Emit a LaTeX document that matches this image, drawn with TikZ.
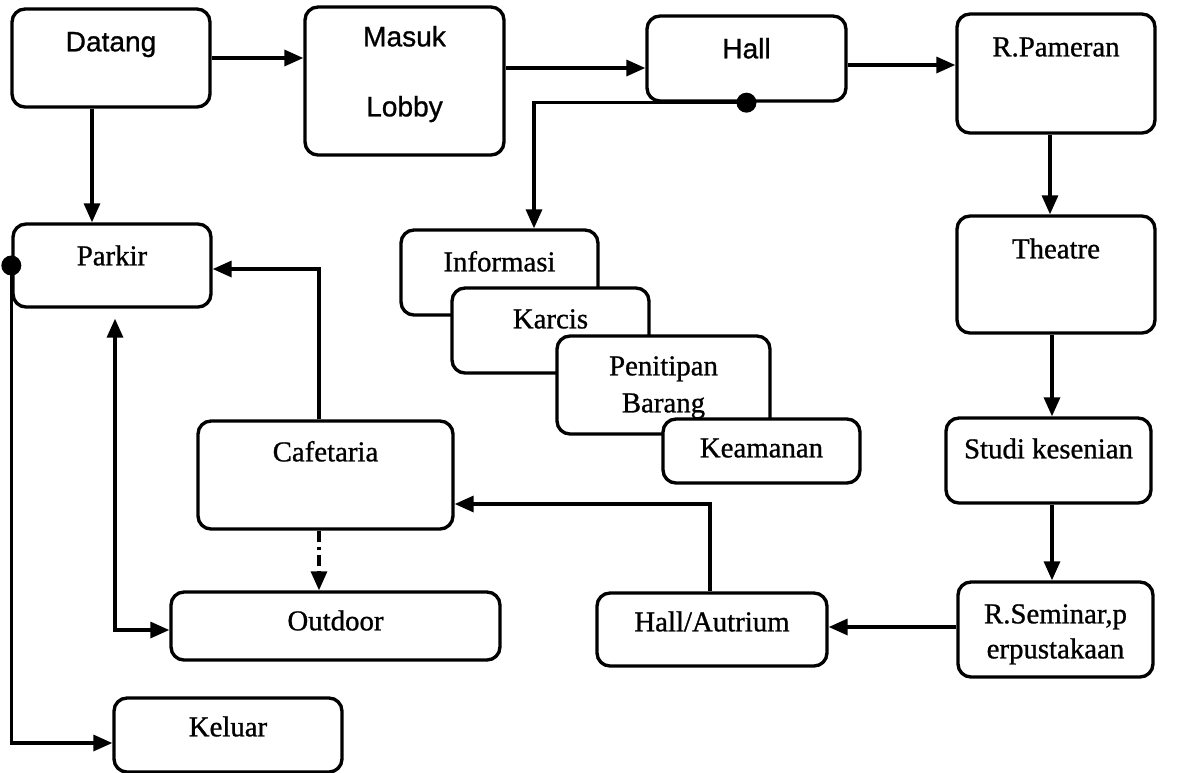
\documentclass[tikz,border=0pt]{standalone}
\usepackage{fontspec}
\setmainfont{Liberation Serif}[FakeBold=0.9]
\newfontfamily\arialf{Liberation Sans}[FakeBold=0.9]
\usetikzlibrary{arrows.meta,calc}

\begin{document}
\begin{tikzpicture}[
  every node/.style={font=\fontsize{8.2}{9.8}\selectfont},
  ruang/.style={draw,fill=white,rounded corners=1.3mm,line width=0.95pt,inner sep=0pt},
  tx/.style={anchor=base,inner sep=0pt},
  sans/.style={font=\arialf\fontsize{8}{9.6}\selectfont},
  fl/.style={-{Triangle[length=1.9mm,width=1.6mm]},line width=0.95pt}
]
\useasboundingbox (0,0) rectangle (11.88,-7.73);

% baris atas
\node[ruang,minimum width=1.98cm,minimum height=0.98cm] (datang) at (1.11,-0.58) {};
\node[tx,sans] (tdatang) at ([yshift=-4.4mm]datang.north) {Datang};
\node[ruang,minimum width=1.99cm,minimum height=1.48cm] (masuk) at (4.045,-0.81) {};
\node[tx,sans] (tmasuk) at ([yshift=-4.1mm]masuk.north) {Masuk};
\node[tx,sans] (tlobby) at ([yshift=-11.1mm]masuk.north) {Lobby};
\node[ruang,minimum width=1.99cm,minimum height=0.85cm] (hall) at (7.465,-0.585) {};
\node[tx,sans] (thall) at ([yshift=-4.4mm]hall.north) {Hall};
\node[ruang,minimum width=1.98cm,minimum height=1.19cm] (pameran) at (10.56,-0.735) {};
\node[tx] (tpameran) at ([yshift=-4.4mm]pameran.north) {R.Pameran};

% kolom kanan
\node[ruang,minimum width=1.98cm,minimum height=1.17cm] (theatre) at (10.56,-2.745) {};
\node[tx] (ttheatre) at ([yshift=-4.4mm]theatre.north) {Theatre};
\node[ruang,minimum width=2.05cm,minimum height=0.85cm] (studi) at (10.485,-4.605) {};
\node[tx] (tstudi) at ([yshift=-4.2mm]studi.north) {Studi kesenian};
\node[ruang,minimum width=1.95cm,minimum height=0.95cm] (seminar) at (10.555,-6.295) {};
\node[tx] (tseminar) at ([yshift=-4.3mm]seminar.north) {R.Seminar,p};
\node[tx] (tseminar2) at ([yshift=-7.8mm]seminar.north) {erpustakaan};

% tumpukan layanan
\node[ruang,minimum width=1.97cm,minimum height=0.85cm] (info) at (4.995,-2.725) {};
\node[tx] (tinfo) at ([yshift=-4.3mm]info.north) {Informasi};
\node[ruang,minimum width=1.97cm,minimum height=0.85cm] (karcis) at (5.505,-3.305) {};
\node[tx] (tkarcis) at ([yshift=-4.2mm]karcis.north) {Karcis};
\node[ruang,minimum width=2.13cm,minimum height=0.98cm] (titip) at (6.635,-3.85) {};
\node[tx] (ttitip) at ([yshift=-4.1mm]titip.north) {Penitipan};
\node[tx] (ttitip2) at ([yshift=-7.8mm]titip.north) {Barang};
\node[ruang,minimum width=1.97cm,minimum height=0.64cm] (aman) at (7.615,-4.51) {};
\node[tx] (taman) at ([yshift=-4.0mm]aman.north) {Keamanan};

% kiri bawah
\node[ruang,minimum width=1.98cm,minimum height=0.83cm] (parkir) at (1.12,-2.655) {};
\node[tx] (tparkir) at ([yshift=-4.3mm]parkir.north) {Parkir};
\node[ruang,minimum width=2.55cm,minimum height=1.08cm] (cafe) at (3.255,-4.75) {};
\node[tx] (tcafe) at ([yshift=-4.2mm]cafe.north) {Cafetaria};
\node[ruang,minimum width=3.29cm,minimum height=0.68cm] (outdoor) at (3.355,-6.26) {};
\node[tx] (toutdoor) at ([yshift=-4.0mm]outdoor.north) {Outdoor};
\node[ruang,minimum width=2.30cm,minimum height=0.73cm] (atrium) at (7.12,-6.295) {};
\node[tx] (tatrium) at ([yshift=-4.0mm]atrium.north) {Hall/Autrium};
\node[ruang,minimum width=2.28cm,minimum height=0.74cm] (keluar) at (2.28,-7.35) {};
\node[tx] (tkeluar) at ([yshift=-4.0mm]keluar.north) {Keluar};

% alur
\draw[fl] (datang.east) -- (datang.east -| masuk.west);
\draw[fl] (masuk.east |- 0,-0.68) -- (hall.west |- 0,-0.68);
\draw[fl] (hall.east |- 0,-0.65) -- (pameran.west |- 0,-0.65);
\draw[fl] ([xshift=-0.6mm]pameran.south) -- ([xshift=-0.6mm]theatre.north);
\draw[fl] ([xshift=-0.4mm]theatre.south) -- ([xshift=-0.4mm]theatre.south |- studi.north);
\draw[fl] ([xshift=-0.4mm]theatre.south |- studi.south) -- ([xshift=-0.4mm]theatre.south |- seminar.north);
\draw[fl] (seminar.west |- 0,-6.27) -- (atrium.east |- 0,-6.27);
\draw[fl] ([xshift=-0.2mm]atrium.north) |- ([yshift=-2.9mm]cafe.east);
\draw[fl] ([xshift=-0.65mm]cafe.north) |- ([yshift=-0.35mm]parkir.east);
\draw[fl,dash pattern=on 1.1mm off 0.5mm on 0.3mm off 0.5mm] ([xshift=-0.65mm]cafe.south) -- ([xshift=-0.65mm]cafe.south |- outdoor.north);
\draw[fl,{Triangle[length=1.9mm,width=1.6mm]}-{Triangle[length=1.9mm,width=1.6mm]},shorten <=1mm] ([xshift=0.3mm]parkir.south) |- ([yshift=-0.4mm]outdoor.west);
\draw[fl] ([xshift=-1.9mm]datang.south) -- ([xshift=-1.9mm]datang.south |- parkir.north);
\draw[fl] (parkir.west) |- ([yshift=-0.8mm]keluar.west);
\draw[fl] (hall.south) -| ([xshift=3.45mm]info.north);
\fill (parkir.west) circle (0.1);
\fill (hall.south) circle (0.1);
\end{tikzpicture}
\end{document}
